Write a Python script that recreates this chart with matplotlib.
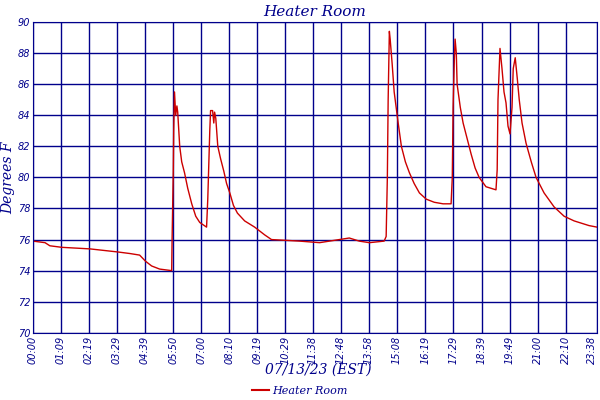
import matplotlib
matplotlib.use("Agg")
import matplotlib.pyplot as plt
from matplotlib.lines import Line2D

minutes = [0,30,42,72,142,212,242,266,281,296,316,346,347,350,351,353,356,359,361,366,371,378,386,396,406,416,433,436,441,443,448,451,453,456,461,468,476,483,491,500,510,528,553,578,595,665,715,764,789,814,839,876,881,884,886,889,891,896,901,906,911,919,929,939,951,964,981,1001,1023,1043,1046,1048,1051,1053,1056,1058,1066,1073,1083,1093,1103,1113,1130,1155,1158,1160,1165,1170,1175,1180,1185,1190,1195,1198,1203,1208,1213,1220,1230,1243,1255,1275,1300,1325,1350,1387,1407]
temps = [75.9,75.8,75.6,75.5,75.4,75.2,75.1,75.0,74.6,74.3,74.1,74.0,76.0,80.5,83.0,85.5,84.0,84.6,84.2,82.0,81.0,80.3,79.3,78.3,77.5,77.1,76.8,78.6,83.0,84.3,84.3,83.5,84.2,83.8,82.0,81.2,80.4,79.6,79.0,78.2,77.7,77.2,76.8,76.3,76.0,75.9,75.8,76.0,76.1,75.9,75.8,75.9,76.2,80.0,85.0,89.4,88.9,87.3,85.5,84.5,83.5,82.0,81.0,80.3,79.6,79.0,78.6,78.4,78.3,78.3,80.0,84.5,87.5,88.9,88.0,86.0,84.5,83.5,82.5,81.5,80.6,80.0,79.4,79.2,80.5,85.0,88.3,87.0,85.5,84.8,83.3,82.8,84.5,87.0,87.7,86.4,85.0,83.5,82.2,81.0,80.0,79.0,78.1,77.5,77.2,76.9,76.8]
tick_pos = [0,69,139,209,279,350,420,490,559,629,698,768,838,908,979,1049,1119,1189,1260,1330,1407]
tick_labels = ["00:00","01:09","02:19","03:29","04:39","05:50","07:00","08:10","09:19","10:29","11:38","12:48","13:58","15:08","16:19","17:29","18:39","19:49","21:00","22:10","23:38"]

navy = "#00008B"
fig = plt.figure(figsize=(6,4), dpi=100)
ax = fig.add_axes([0.055, 0.168, 0.94, 0.777])
ax.plot(minutes, temps, color="#CC0000", lw=1.0)
ax.set_xlim(0, 1407)
ax.set_ylim(70, 90)
ax.set_yticks(range(70, 91, 2))
ax.set_xticks(tick_pos)
ax.set_xticklabels(tick_labels, rotation=90, fontsize=7, style="italic", color=navy)
ax.get_xticklabels()[-1].set_ha("right")
ax.tick_params(axis="y", labelsize=7, labelcolor=navy, length=0, pad=2)
ax.tick_params(axis="x", length=0, pad=2)
for lab in ax.get_yticklabels():
    lab.set_style("italic")
ax.grid(True, color=navy, lw=1)
for s in ax.spines.values():
    s.set_color(navy)
ax.set_ylabel("Degrees F", fontsize=10, family="DejaVu Serif", style="italic", color=navy, labelpad=2)
ax.set_title("Heater Room", fontsize=11, family="DejaVu Serif", style="italic", color=navy, pad=4)
fig.text(0.53, 0.065, "07/13/23 (EST)", ha="center", fontsize=10, family="DejaVu Serif", style="italic", color=navy)
fig.legend([Line2D([0],[0], color="#CC0000", lw=1.5)], ["Heater Room"], loc="lower center",
           bbox_to_anchor=(0.5, -0.015), frameon=False, prop={"family":"DejaVu Serif","style":"italic","size":8},
           labelcolor=navy, handlelength=1.5, handletextpad=0.3)
fig.savefig("out.png")
